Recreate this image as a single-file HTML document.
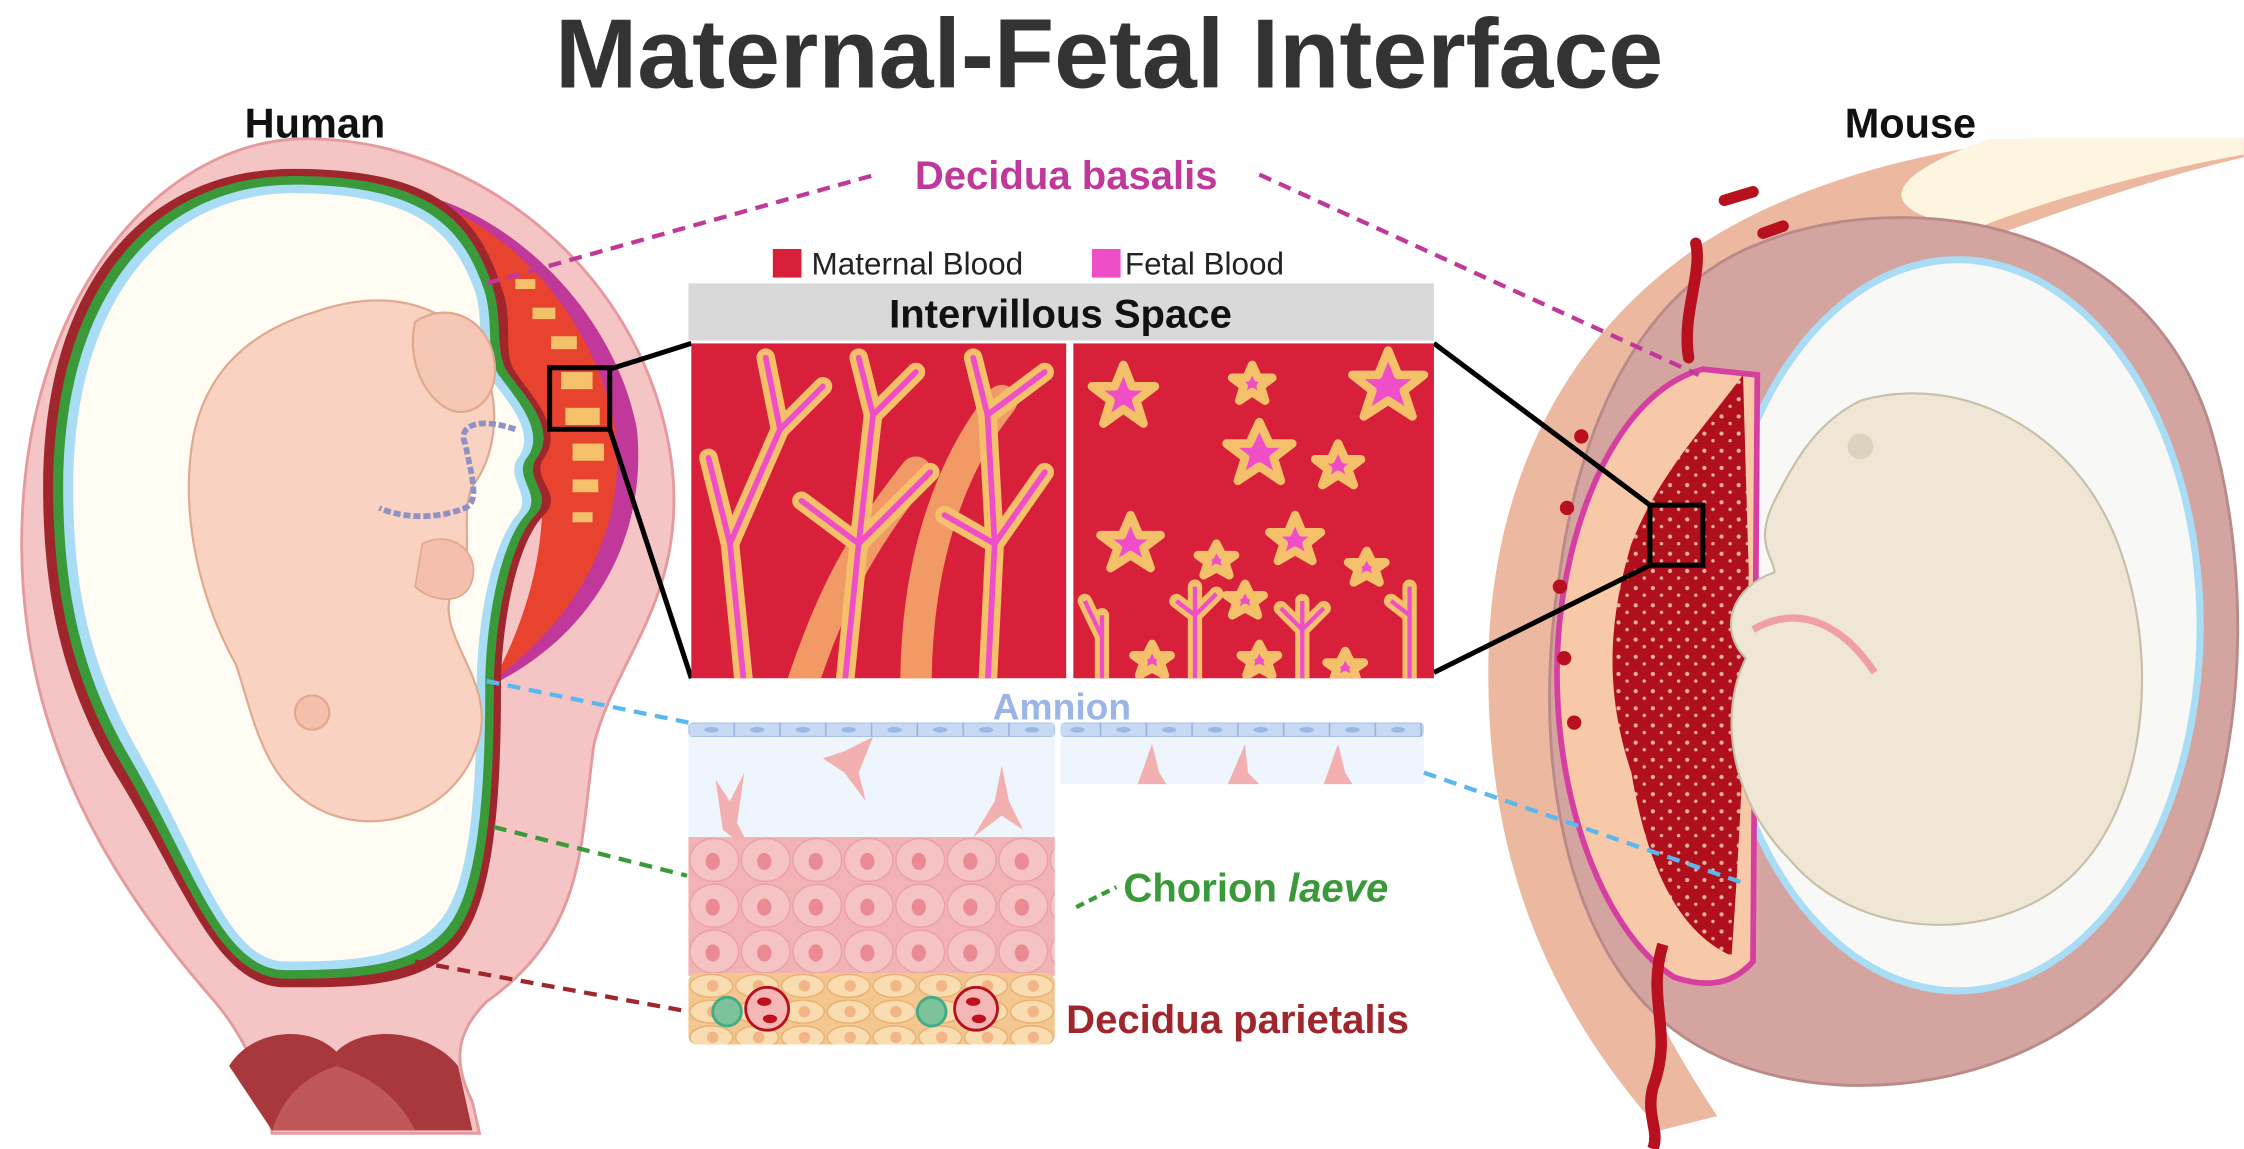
<!DOCTYPE html>
<html><head><meta charset="utf-8"><style>
html,body{margin:0;padding:0;background:#fff;}
svg{display:block;}
text{font-family:"Liberation Sans",Arial,sans-serif;}
</style></head><body>
<svg width="2244" height="1149" viewBox="0 0 1568 803" xmlns="http://www.w3.org/2000/svg">
<defs>
<pattern id="pinkcells" x="481" y="585" width="36" height="32" patternUnits="userSpaceOnUse">
<rect width="36" height="32" fill="#f2b3b6"/>
<ellipse cx="18" cy="16" rx="17" ry="15" fill="#f6c3c5" stroke="#eaa0a6" stroke-width="1"/>
<ellipse cx="17" cy="17" rx="5" ry="6" fill="#e98a95"/>
</pattern>
<pattern id="tancells" x="481" y="680" width="32" height="18" patternUnits="userSpaceOnUse">
<rect width="32" height="18" fill="#f3c78f"/>
<ellipse cx="16" cy="9" rx="15" ry="8" fill="#f9dcb0" stroke="#e8b070" stroke-width="1"/>
<circle cx="17" cy="9" r="4" fill="#f2b585"/>
</pattern>
<pattern id="amcells" x="481" y="505" width="32" height="10" patternUnits="userSpaceOnUse">
<rect width="32" height="10" fill="#c7d9f3" stroke="#8fb0e0" stroke-width="1"/>
<ellipse cx="16" cy="5" rx="5" ry="2" fill="#9ab8e6"/>
</pattern>
<pattern id="dots" width="12" height="12" patternUnits="userSpaceOnUse">
<rect width="12" height="12" fill="#b00f1c"/>
<circle cx="3" cy="3" r="1.5" fill="#e8b0a8"/>
<circle cx="9" cy="8" r="1.2" fill="#e8b0a8"/>
</pattern>
<clipPath id="lp"><rect x="483" y="240" width="262" height="234"/></clipPath>
<clipPath id="rp"><rect x="750" y="240" width="252" height="234"/></clipPath>
</defs>

<text x="775" y="61" font-size="69" font-weight="bold" fill="#333" text-anchor="middle">Maternal-Fetal Interface</text>
<text x="220" y="96" font-size="29" font-weight="bold" fill="#111" text-anchor="middle">Human</text>
<text x="1335" y="96" font-size="29" font-weight="bold" fill="#111" text-anchor="middle">Mouse</text>

<!-- ===== HUMAN ===== -->
<path d="M210,97 C330,95 455,190 470,330 C478,420 430,460 415,520 C405,590 410,650 340,700 C320,720 315,740 330,770 L335,792 L190,792 C185,760 175,730 150,700 C80,620 15,520 15,380 C15,210 110,100 210,97 Z" fill="#f5c4c4" stroke="#e59a9e" stroke-width="2"/>
<path d="M160,745 C175,720 215,715 235,735 C255,715 300,720 320,745 L330,790 L190,790 Z" fill="#a8383c"/>
<path d="M190,790 C200,760 220,750 235,745 C250,750 275,760 290,790 Z" fill="#c0585a"/>
<path d="M290,135 C360,150 430,220 445,300 C452,370 420,440 345,478 C380,420 395,360 385,320 C370,260 345,200 290,135 Z" fill="#c0399a"/>
<path d="M290,138 C355,155 415,220 430,300 C438,370 405,430 345,475 C375,420 385,360 375,318 C360,260 340,200 290,138 Z" fill="#e8432f"/>
<g fill="#f5c06a">
<rect x="360" y="195" width="14" height="7"/><rect x="372" y="215" width="16" height="8"/><rect x="385" y="235" width="18" height="9"/>
<rect x="392" y="260" width="22" height="12"/><rect x="395" y="285" width="24" height="12"/><rect x="400" y="310" width="22" height="12"/><rect x="400" y="335" width="18" height="9"/><rect x="400" y="358" width="14" height="7"/>
</g>
<path d="M205,118 C310,118 335,155 350,200 C360,225 350,245 360,260 C370,275 395,300 380,320 C370,335 395,345 380,360 C360,380 350,440 350,480 C350,560 345,630 320,660 C295,690 250,690 200,690 C150,690 130,620 80,540 C45,480 30,420 30,340 C30,200 100,118 205,118 Z" fill="#a0262e"/>
<path d="M205,123 C305,123 330,158 344,200 C352,225 345,248 356,262 C366,276 390,300 375,320 C365,335 388,345 374,360 C355,380 345,440 345,480 C345,560 340,628 316,655 C292,682 248,684 200,684 C152,684 133,616 86,536 C52,478 37,420 37,340 C37,205 104,123 205,123 Z" fill="#3a9a3a"/>
<path d="M205,129 C300,129 324,162 338,202 C346,226 338,250 350,264 C360,278 382,302 368,320 C358,334 380,346 367,360 C348,382 339,440 339,480 C339,556 334,624 311,650 C288,676 246,678 200,678 C156,678 138,612 92,532 C59,476 44,420 44,340 C44,210 108,129 205,129 Z" fill="#a9dcf5"/>
<path d="M205,135 C296,135 318,166 332,204 C339,227 331,252 344,266 C354,280 375,302 362,320 C352,334 373,346 361,360 C342,383 333,440 333,480 C333,552 329,620 306,645 C284,670 244,672 200,672 C160,672 143,608 98,528 C66,472 51,420 51,340 C51,215 112,135 205,135 Z" fill="#fffdf3"/>
<!-- fetus -->
<path d="M220,218 C285,195 330,225 340,260 C350,290 345,320 330,340 C320,360 335,395 315,415 C305,445 345,475 335,515 C322,565 270,585 228,568 C185,550 178,505 165,465 C140,420 125,360 135,305 C145,255 180,230 220,218 Z" fill="#f9d2c2" stroke="#e0a88f" stroke-width="1.5"/>
<path d="M290,225 C312,210 340,222 345,250 C350,275 333,292 316,287 C300,282 283,255 290,225 Z" fill="#f6c7b4" stroke="#e0a88f" stroke-width="1.5"/>
<path d="M295,380 C315,370 335,385 330,405 C325,425 300,420 290,410 Z" fill="#f4c0ad" stroke="#e0a88f" stroke-width="1.2"/>
<circle cx="218" cy="498" r="12" fill="#f4c0ad" stroke="#e0a88f" stroke-width="1.5"/>
<path d="M360,300 C330,290 320,300 325,310 C330,335 335,350 325,355 C300,365 275,360 265,355" fill="none" stroke="#8e92c4" stroke-width="4" stroke-dasharray="5 2"/>
<rect x="384" y="257" width="42" height="43" fill="none" stroke="#000" stroke-width="3.5"/>
<line x1="426" y1="258" x2="483" y2="240" stroke="#000" stroke-width="3.5"/>
<line x1="426" y1="300" x2="483" y2="474" stroke="#000" stroke-width="3.5"/>

<!-- ===== MOUSE ===== -->
<path d="M1420,97 L1568,97 L1568,110 C1480,130 1380,170 1300,200 C1200,240 1130,330 1110,430 C1090,550 1120,660 1200,780 L1160,790 C1080,700 1040,600 1040,470 C1040,330 1100,230 1190,170 C1260,125 1350,105 1420,97 Z" fill="#ecb8a0"/>
<path d="M1390,97 L1568,97 L1568,108 C1500,120 1430,140 1380,160 C1320,150 1300,130 1390,97 Z" fill="#fdf5e0"/>
<path d="M1230,170 C1330,130 1500,150 1545,300 C1580,420 1570,600 1480,690 C1400,770 1250,780 1170,720 C1090,660 1070,520 1090,400 C1105,290 1150,200 1230,170 Z" fill="#d4a5a0" stroke="#b98a88" stroke-width="2"/>
<ellipse cx="1368" cy="437" rx="172" ry="258" fill="#a9dcf5"/>
<ellipse cx="1368" cy="437" rx="167" ry="253" fill="#f8f8f6"/>
<path d="M1190,258 C1125,275 1088,380 1088,470 C1088,570 1125,655 1170,683 C1200,693 1215,683 1225,672 L1228,262 Z" fill="#f7c9a8" stroke="#d63fa0" stroke-width="4"/>
<path d="M1218,262 C1190,300 1160,330 1140,380 C1125,430 1120,480 1140,540 C1150,600 1170,650 1210,668 C1215,600 1220,500 1222,400 Z" fill="url(#dots)"/>
<path d="M1180,250 C1175,220 1190,190 1185,170 M1232,163 L1246,158 M1205,140 L1225,134" stroke="#b8101e" stroke-width="8" fill="none" stroke-linecap="round"/>
<path d="M1162,660 C1150,700 1170,720 1155,760 C1150,780 1160,790 1155,803" stroke="#b8101e" stroke-width="8" fill="none"/>
<g fill="#b8101e"><circle cx="1105" cy="305" r="5"/><circle cx="1095" cy="355" r="5"/><circle cx="1090" cy="410" r="5"/><circle cx="1093" cy="460" r="5"/><circle cx="1100" cy="505" r="5"/></g>
<path d="M1300,280 C1370,260 1450,300 1480,380 C1510,460 1500,560 1450,610 C1400,660 1300,660 1250,600 C1210,560 1200,500 1220,460 C1200,440 1210,410 1240,400 C1240,390 1225,380 1240,350 C1255,320 1270,295 1300,280 Z" fill="#efe6d6" stroke="#c9bfa8" stroke-width="1.5"/>
<circle cx="1300" cy="312" r="9" fill="#ddd2bd"/>
<path d="M1225,440 C1260,420 1290,440 1310,470" stroke="#f0a0a4" stroke-width="5" fill="none"/>
<rect x="1153" y="353" width="37" height="42" fill="none" stroke="#000" stroke-width="3.5"/>
<line x1="1002" y1="240" x2="1153" y2="353" stroke="#000" stroke-width="3.5"/>
<line x1="1002" y1="470" x2="1153" y2="395" stroke="#000" stroke-width="3.5"/>

<!-- ===== CENTER ===== -->
<text x="745" y="132" font-size="28" font-weight="bold" fill="#c0399a" text-anchor="middle">Decidua basalis</text>
<rect x="540" y="174" width="20" height="20" fill="#d9203a"/>
<text x="567" y="192" font-size="22" fill="#222">Maternal Blood</text>
<rect x="763" y="174" width="20" height="20" fill="#ee4fc8"/>
<text x="786" y="192" font-size="22" fill="#222">Fetal Blood</text>
<rect x="481" y="198" width="521" height="40" fill="#d9d9d9"/>
<text x="741" y="229" font-size="28" font-weight="bold" fill="#111" text-anchor="middle">Intervillous Space</text>
<rect x="483" y="240" width="262" height="234" fill="#d9203a"/>
<rect x="750" y="240" width="252" height="234" fill="#d9203a"/>
<g clip-path="url(#lp)" fill="none" stroke-linecap="round">
<g stroke="#f5a86a" stroke-width="22" opacity="0.9">
<path d="M640,480 C640,400 660,330 700,280"/><path d="M560,480 C580,420 600,380 640,330"/>
</g>
<g stroke="#f5c06a" stroke-width="13">
<path d="M520,480 L510,380 L495,320 M510,380 L545,300 L535,250 M545,300 L575,270"/>
<path d="M590,480 L600,380 L610,290 L600,250 M610,290 L640,260 M600,380 L650,330 M600,380 L560,350"/>
<path d="M690,480 L695,380 L690,290 L680,250 M690,290 L730,260 M695,380 L730,330 M695,380 L660,360"/>
</g>
<g stroke="#ee4fc8" stroke-width="4">
<path d="M520,480 L510,380 L495,320 M510,380 L545,300 L535,250 M545,300 L575,270"/>
<path d="M590,480 L600,380 L610,290 L600,250 M610,290 L640,260 M600,380 L650,330 M600,380 L560,350"/>
<path d="M690,480 L695,380 L690,290 L680,250 M690,290 L730,260 M695,380 L730,330 M695,380 L660,360"/>
</g>
</g>
<g clip-path="url(#rp)" stroke="#f5c06a" stroke-width="6" fill="#ee4fc8" stroke-linejoin="round">
<polygon points="785,255 791,270 807,270 794,280 799,296 785,286 771,296 776,280 763,270 779,270"/>
<polygon points="875,255 879,264 889,264 881,270 884,280 875,274 866,280 869,270 861,264 871,264"/>
<polygon points="970,245 977,262 995,262 981,273 987,291 970,280 953,291 959,273 945,262 963,262"/>
<polygon points="880,295 887,310 903,310 890,320 895,336 880,326 865,336 870,320 857,310 873,310"/>
<polygon points="935,310 940,321 951,321 942,328 946,339 935,332 924,339 928,328 919,321 930,321"/>
<polygon points="790,360 796,374 811,374 799,383 804,397 790,388 776,397 781,383 769,374 784,374"/>
<polygon points="905,360 910,372 923,372 913,380 917,392 905,385 893,392 897,380 887,372 900,372"/>
<polygon points="850,380 854,388 863,388 856,393 859,402 850,397 841,402 844,393 837,388 846,388"/>
<polygon points="955,385 959,393 968,393 961,398 964,407 955,402 946,407 949,398 942,393 951,393"/>
<polygon points="870,408 874,416 883,416 876,421 879,430 870,425 861,430 864,421 857,416 866,416"/>
<polygon points="805,450 809,458 818,458 811,463 814,472 805,467 796,472 799,463 792,458 801,458"/>
<polygon points="880,450 884,458 893,458 886,463 889,472 880,467 871,472 874,463 867,458 876,458"/>
<polygon points="940,455 944,463 953,463 946,468 949,477 940,472 931,477 934,468 927,463 936,463"/>
</g>
<g clip-path="url(#rp)" fill="none">
<path d="M770,480 L770,430 M770,445 L758,420 M835,480 L835,410 M835,430 L822,420 M835,430 L850,415 M910,480 L910,420 M910,440 L895,425 M910,440 L925,425 M985,480 L985,410 M985,430 L972,420" stroke="#f5c06a" stroke-width="10" stroke-linecap="round"/>
<path d="M770,480 L770,430 M770,445 L758,420 M835,480 L835,410 M835,430 L822,420 M835,430 L850,415 M910,480 L910,420 M910,440 L895,425 M910,440 L925,425 M985,480 L985,410 M985,430 L972,420" stroke="#ee4fc8" stroke-width="3"/>
</g>

<text x="742" y="503" font-size="26" font-weight="bold" fill="#9bb5e6" text-anchor="middle">Amnion</text>
<rect x="481" y="505" width="256" height="85" fill="#eef5fc"/>
<rect x="741" y="505" width="254" height="43" fill="#eef5fc"/>
<rect x="481" y="505" width="256" height="10" rx="3" fill="url(#amcells)"/>
<rect x="741" y="505" width="254" height="10" rx="3" fill="url(#amcells)"/>
<g fill="#f2b0b0">
<path d="M500,545 L510,560 L520,540 L515,575 L525,595 L505,580 Z"/>
<path d="M575,530 L590,525 L610,515 L600,540 L605,560 L590,540 Z"/>
<path d="M700,535 L705,560 L715,580 L700,570 L680,585 L695,560 Z"/>
<path d="M805,520 L810,540 L815,548 L795,548 Z"/><path d="M870,520 L872,540 L880,548 L858,548 Z"/><path d="M935,520 L940,540 L945,548 L925,548 Z"/>
</g>
<rect x="481" y="585" width="256" height="97" fill="url(#pinkcells)"/>
<rect x="481" y="680" width="256" height="50" rx="6" fill="url(#tancells)"/>
<g><circle cx="508" cy="707" r="10" fill="#7cc39a" stroke="#4a8" stroke-width="2"/><circle cx="536" cy="705" r="15" fill="#f5b6b6" stroke="#b8101e" stroke-width="2"/><ellipse cx="534" cy="700" rx="5" ry="3" fill="#c01020"/><ellipse cx="538" cy="712" rx="5" ry="3" fill="#c01020"/>
<circle cx="651" cy="707" r="10" fill="#7cc39a" stroke="#4a8" stroke-width="2"/><circle cx="682" cy="705" r="15" fill="#f5b6b6" stroke="#b8101e" stroke-width="2"/><ellipse cx="680" cy="700" rx="5" ry="3" fill="#c01020"/><ellipse cx="684" cy="712" rx="5" ry="3" fill="#c01020"/></g>

<text x="785" y="630" font-size="28" font-weight="bold" fill="#3a9a3a">Chorion <tspan font-style="italic">laeve</tspan></text>
<text x="745" y="722" font-size="28" font-weight="bold" fill="#a0262e">Decidua parietalis</text>

<g fill="none" stroke-width="3" stroke-dasharray="9 6">
<line x1="340" y1="198" x2="612" y2="122" stroke="#c0399a"/>
<line x1="880" y1="122" x2="1187" y2="262" stroke="#c0399a"/>
<line x1="340" y1="476" x2="481" y2="505" stroke="#5ab8ef"/>
<line x1="995" y1="540" x2="1218" y2="617" stroke="#5ab8ef"/>
<line x1="345" y1="578" x2="480" y2="612" stroke="#3a9a3a"/>
<line x1="752" y1="634" x2="780" y2="620" stroke="#3a9a3a" stroke-dasharray="6 4"/>
<line x1="290" y1="672" x2="476" y2="706" stroke="#a0262e"/>
</g>
</svg>
</body></html>
